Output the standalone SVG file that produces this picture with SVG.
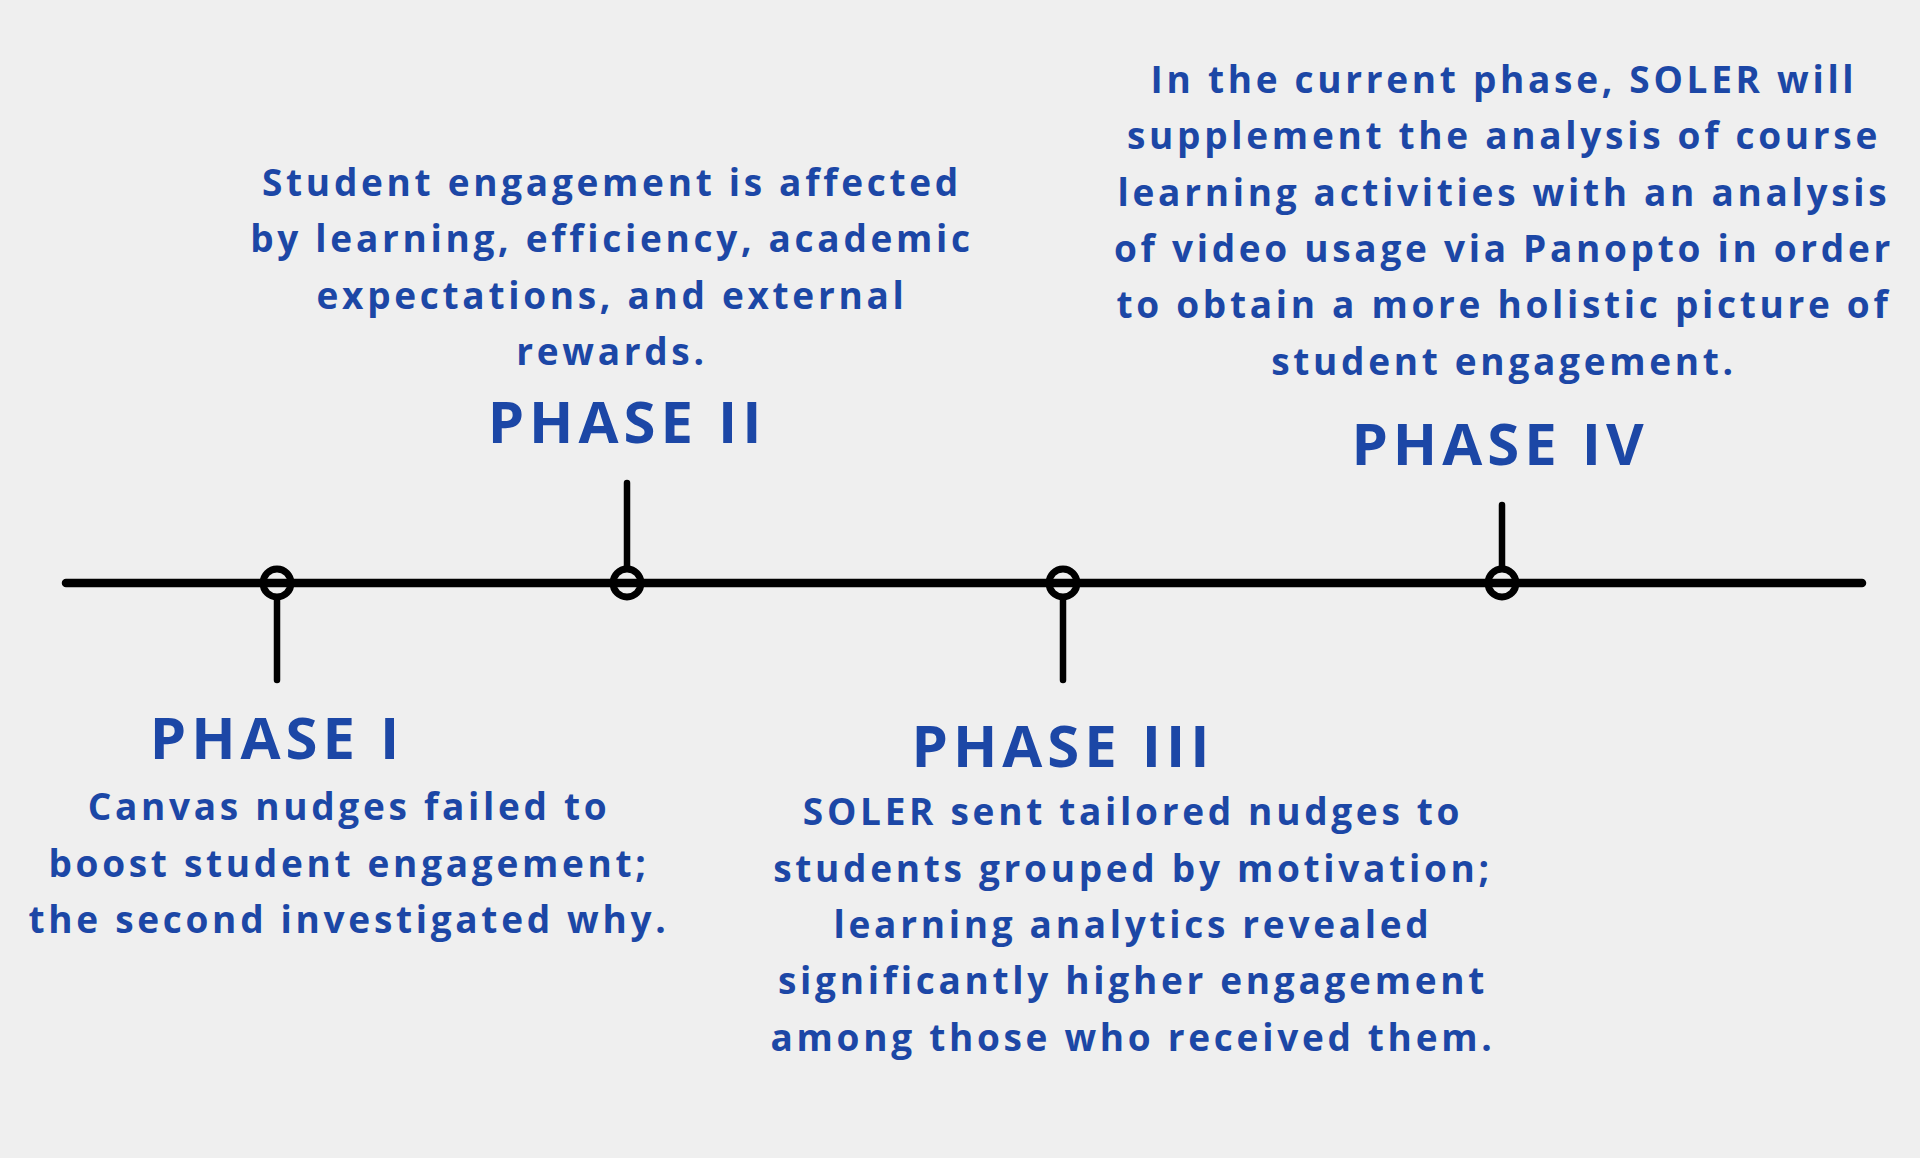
<svg xmlns="http://www.w3.org/2000/svg" width="1920" height="1158" viewBox="0 0 1920 1158">
<style>
.h{font-family:"Open Sans","Liberation Sans",sans-serif;font-weight:700;font-size:58px;fill:#1c47a6;text-anchor:middle;letter-spacing:5px}
.b{font-family:"Open Sans","Liberation Sans",sans-serif;font-weight:700;font-size:37px;fill:#1c47a6;text-anchor:middle;letter-spacing:3.7px}
.ln{stroke:#000;stroke-width:8.5;stroke-linecap:round;fill:none}
.tk{stroke:#000;stroke-width:6.5;stroke-linecap:round;fill:none}
.dot{stroke:#000;stroke-width:7;fill:none}
</style>
<rect width="1920" height="1158" fill="#efefef"/>
<g id="connectors">
<line class="ln" x1="66" y1="583" x2="1862" y2="583"/>
<line class="tk" x1="277" y1="598" x2="277" y2="680"/>
<line class="tk" x1="627" y1="568" x2="627" y2="483"/>
<line class="tk" x1="1063" y1="598" x2="1063" y2="680"/>
<line class="tk" x1="1502" y1="568" x2="1502" y2="505"/>
</g>
<g id="phase1">
<circle class="dot" cx="277" cy="583" r="14"/>
<text class="h" x="277" y="759">PHASE I</text>
<text class="b" x="349" y="820">Canvas nudges failed to</text>
<text class="b" x="349" y="877">boost student engagement;</text>
<text class="b" x="349" y="933">the second investigated why.</text>
</g>
<g id="phase2">
<circle class="dot" cx="627" cy="583" r="14"/>
<text class="h" x="627" y="443">PHASE II</text>
<text class="b" x="612" y="196">Student engagement is affected</text>
<text class="b" x="612" y="252">by learning, efficiency, academic</text>
<text class="b" x="612" y="309">expectations, and external</text>
<text class="b" x="612" y="365">rewards.</text>
</g>
<g id="phase3">
<circle class="dot" cx="1063" cy="583" r="14"/>
<text class="h" x="1063" y="767">PHASE III</text>
<text class="b" x="1133" y="825">SOLER sent tailored nudges to</text>
<text class="b" x="1133" y="882">students grouped by motivation;</text>
<text class="b" x="1133" y="938">learning analytics revealed</text>
<text class="b" x="1133" y="994">significantly higher engagement</text>
<text class="b" x="1133" y="1051">among those who received them.</text>
</g>
<g id="phase4">
<circle class="dot" cx="1502" cy="583" r="14"/>
<text class="h" x="1500" y="465">PHASE IV</text>
<text class="b" x="1504" y="93">In the current phase, SOLER will</text>
<text class="b" x="1504" y="149">supplement the analysis of course</text>
<text class="b" x="1504" y="206">learning activities with an analysis</text>
<text class="b" x="1504" y="262">of video usage via Panopto in order</text>
<text class="b" x="1504" y="318">to obtain a more holistic picture of</text>
<text class="b" x="1504" y="375">student engagement.</text>
</g>
</svg>
